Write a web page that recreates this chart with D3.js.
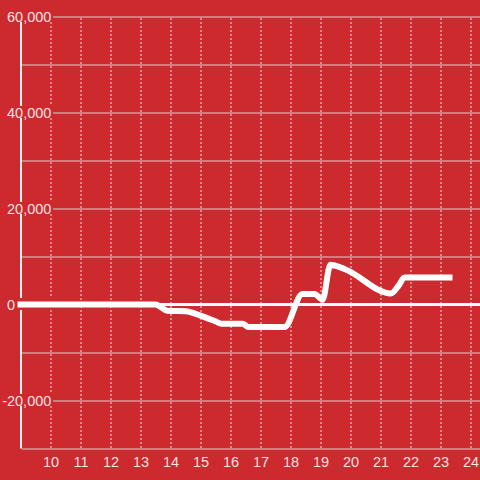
<!DOCTYPE html>
<html>
<head>
<meta charset="utf-8">
<script src="https://cdn.jsdelivr.net/npm/d3@7"></script>
<style>
  html, body { margin: 0; padding: 0; background: #cc2a2f; }
  svg { display: block; }
  text { font-family: "Liberation Sans", Arial, sans-serif; }
</style>
</head>
<body>
<div id="chart"></div>
<script>
const W = 480, H = 480;
const BG = '#cc2a2f';
const FONT = 14.5;

// data
const xValues = [9, 13.5, 13.9, 14.5, 15.0, 15.5, 15.7, 16.4, 16.6, 17.8, 18.4, 18.8, 19.07, 19.33, 19.8, 21.35, 21.6, 21.8, 23.3];
const yValues = [0, 0, -1300, -1400, -2300, -3500, -4000, -4000, -4700, -4700, 2200, 2200, 1000, 8300, 7400, 2300, 3900, 5600, 5600];
const xTicks = [10, 11, 12, 13, 14, 15, 16, 17, 18, 19, 20, 21, 22, 23, 24];
const yGridTicks = [-30000, -20000, -10000, 0, 10000, 20000, 30000, 40000, 50000, 60000];
const yLabelTicks = [-20000, 0, 20000, 40000, 60000];

const points = xValues.map((x, i) => ({x: x, y: yValues[i]}));

const x = d3.scaleLinear().domain([9, 24.333]).range([20.5, 480.5]);
const y = d3.scaleLinear().domain([-30000, 60000]).range([448.5, 16.5]);

const svg = d3.select('#chart').append('svg')
  .attr('width', W)
  .attr('height', H);

svg.append('rect')
  .attr('width', W)
  .attr('height', H)
  .attr('fill', BG);

// horizontal grid
const yGrid = svg.append('g')
  .attr('transform', 'translate(22,0)')
  .call(d3.axisLeft(y).tickValues(yGridTicks).tickSize(-(W - 22)).tickFormat(''));
yGrid.select('.domain').remove();
yGrid.selectAll('line').attr('stroke', '#d2d2d2').attr('stroke-width', 1);

// vertical dotted grid
const xGrid = svg.append('g')
  .attr('transform', `translate(0,${y(-30000) - 0.5})`)
  .call(d3.axisBottom(x).tickValues(xTicks).tickSize(-(y(-30000) - y(60000))).tickFormat(''));
xGrid.select('.domain').remove();
xGrid.selectAll('line')
  .attr('stroke', '#e6e6e6')
  .attr('stroke-width', 1)
  .attr('stroke-dasharray', '2,2');

// left axis line
svg.append('line')
  .attr('x1', 21).attr('x2', 21)
  .attr('y1', y(60000)).attr('y2', y(-30000))
  .attr('stroke', '#f2f2f2')
  .attr('stroke-width', 2);

// y labels, each on a box that hides axis and grid behind it
const yLab = svg.append('g');
yLabelTicks.forEach(v => {
  yLab.append('rect')
    .attr('x', 0)
    .attr('y', y(v) - 6.5)
    .attr('width', 53)
    .attr('height', 12)
    .attr('fill', BG);
  yLab.append('text')
    .attr('x', v < 0 ? 7 - FONT * 0.333 : 7)
    .attr('y', y(v))
    .attr('dy', '0.36em')
    .attr('font-size', FONT)
    .attr('fill', '#fff')
    .attr('fill-opacity', 0.88)
    .text(d3.format(',')(v).replace('−', '-'));
});

// zero line
svg.append('line')
  .attr('x1', 20).attr('x2', W)
  .attr('y1', y(0)).attr('y2', y(0))
  .attr('stroke', '#fff')
  .attr('stroke-width', 3);

// data line
const line = d3.line()
  .x(d => x(d.x))
  .y(d => y(d.y))
  .curve(d3.curveMonotoneX);

svg.append('path')
  .datum(points)
  .attr('d', line)
  .attr('fill', 'none')
  .attr('stroke', '#fff')
  .attr('stroke-width', 6)
  .attr('stroke-linecap', 'square')
  .attr('stroke-linejoin', 'round');

// x labels
const xAxis = svg.append('g')
  .attr('transform', `translate(0,${y(-30000)})`)
  .call(d3.axisBottom(x).tickValues(xTicks).tickSize(0).tickPadding(8));
xAxis.select('.domain').remove();
xAxis.selectAll('text')
  .attr('font-size', FONT)
  .attr('font-family', '"Liberation Sans", Arial, sans-serif')
  .attr('fill', '#fff')
  .attr('fill-opacity', 0.88);
</script>
</body>
</html>
